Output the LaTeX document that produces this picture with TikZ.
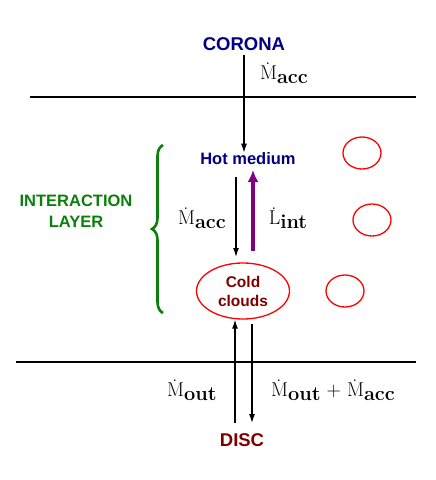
\documentclass[tikz,border=0pt]{standalone}
\usepackage{fontspec}
\setsansfont{Liberation Sans}
\usetikzlibrary{arrows.meta,decorations.pathreplacing,shapes.geometric}
\definecolor{navy}{RGB}{0,0,128}
\definecolor{dred}{RGB}{128,0,0}
\definecolor{lgreen}{RGB}{10,128,10}
\definecolor{purp}{RGB}{128,0,128}
\newcommand{\rateq}[2]{\leavevmode\setbox0\hbox{#1}\rlap{\hbox to\wd0{\hss\raisebox{\dimexpr\ht0+1.5pt\relax}{.}\hss\hskip1.5pt}}\box0\raisebox{-3.5pt}{\bfseries #2}}
\begin{document}
\begin{tikzpicture}[x=1pt,y=-1pt,
  lbl/.style={font=\sffamily\bfseries\fontsize{16.5}{18}\selectfont, inner sep=0pt, align=center},
  mth/.style={inner sep=0pt, font=\fontsize{20}{22}\selectfont},
  flow/.style={line width=1.2pt, -{Latex[length=9pt,width=6pt]}},
  cloud/.style={draw=red, line width=1.3pt, ellipse, minimum width=38pt, minimum height=32pt, inner sep=0pt}
]
\useasboundingbox (0,0) rectangle (436,480);
\node[lbl, text=navy, font=\sffamily\bfseries\fontsize{18.5}{20}\selectfont] (corona) at (244,44) {CORONA};
\node[mth] (macc1) at (284,73) {\rateq{M}{acc}};
\coordinate (top) at (30,97);
\coordinate (topr) at (416,97);
\draw[line width=1.6pt] (top) -- (topr);
\coordinate (bot) at (16,362);
\coordinate (botr) at (416,362);
\draw[line width=1.6pt] (bot) -- (botr);
\node[lbl, text=navy] (hot) at (248,159) {Hot medium};
\node[draw=red, line width=1.3pt, ellipse, minimum width=93pt, minimum height=56pt, inner sep=0pt, text=dred, lbl, font=\sffamily\bfseries\fontsize{15.5}{17}\selectfont] (cold) at (243,291) {Cold\\[2pt]clouds};
\node[cloud] (c1) at (362,153) {};
\node[cloud] (c2) at (372,220) {};
\node[cloud] (c3) at (345,291) {};
\coordinate (cstart) at (244,55);
\draw[flow] (cstart) -- (hot.north -| cstart);
\coordinate (a1) at (236,177);
\coordinate (a2) at (236,257);
\draw[flow] (a1) -- (a2);
\coordinate (p1) at (253,251);
\coordinate (p2) at (253,170);
\draw[line width=3.5pt, purp, -{Latex[length=12pt,width=11pt]}] (p1) -- (p2);
\node[mth] (macc2) at (202,218) {\rateq{M}{acc}};
\node[mth] (lint) at (288,218) {\rateq{L}{int}};
\coordinate (b1) at (235,423);
\draw[flow] (b1) -- (cold.south -| b1);
\coordinate (b2) at (252,324);
\coordinate (b3) at (252,423);
\draw[flow] (b2) -- (b3);
\node[mth] (mout) at (192,390) {\rateq{M}{out}};
\node[mth] (mtot) at (333,390) {\rateq{M}{out} + \rateq{M}{acc}};
\node[lbl, text=dred, font=\sffamily\bfseries\fontsize{18.5}{20}\selectfont] (disc) at (242,440) {DISC};
\coordinate (br1) at (163,313);
\coordinate (br2) at (163,145);
\draw[lgreen, line width=2.6pt, decorate, decoration={brace, amplitude=11pt}] (br1) -- (br2);
\node[lbl, text=lgreen] (layer) at (76,211) {INTERACTION\\[3pt]LAYER};
\end{tikzpicture}
\end{document}
